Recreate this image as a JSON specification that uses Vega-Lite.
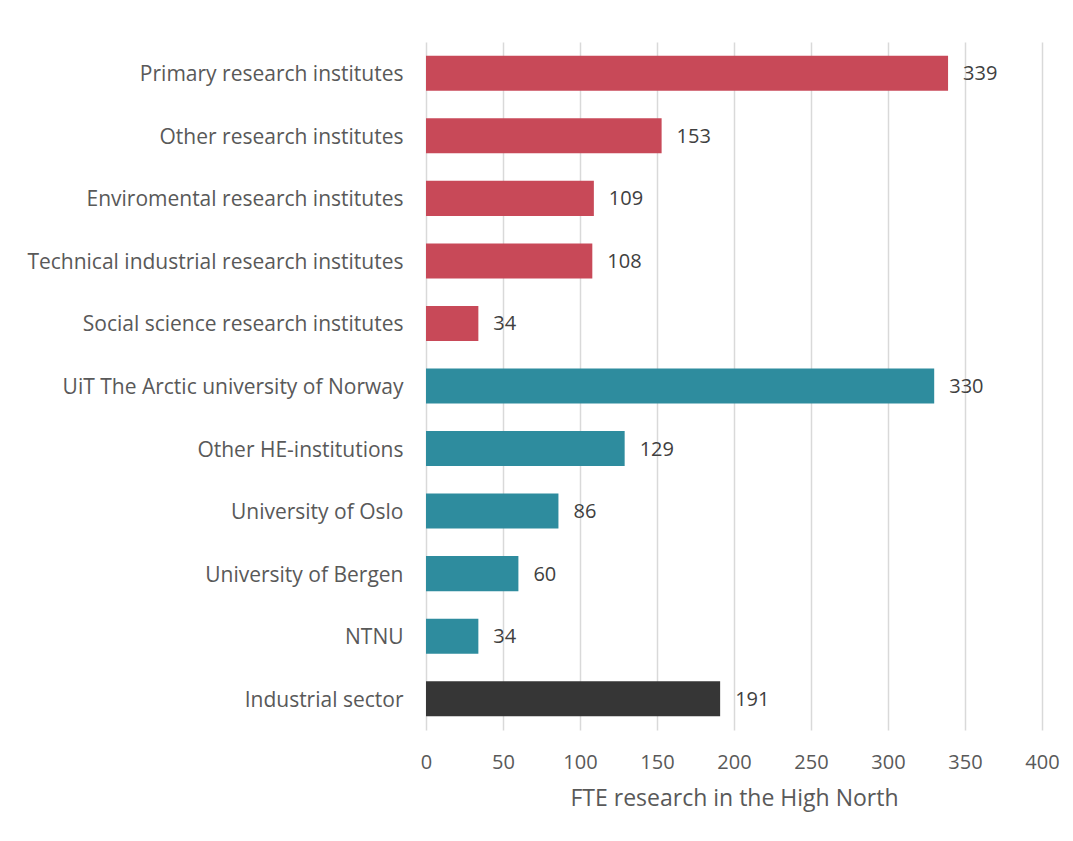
{
  "$schema": "https://vega.github.io/schema/vega-lite/v6.json",
  "autosize": "none",
  "width": 616,
  "height": 688,
  "padding": {"left": 426, "top": 42, "right": 31, "bottom": 111},
  "background": "white",
  "config": {
    "view": {"stroke": null},
    "font": "Open Sans"
  },
  "data": {
    "values": [
      {"category": "Primary research institutes", "value": 339, "group": "Research institutes"},
      {"category": "Other research institutes", "value": 153, "group": "Research institutes"},
      {"category": "Enviromental research institutes", "value": 109, "group": "Research institutes"},
      {"category": "Technical industrial research institutes", "value": 108, "group": "Research institutes"},
      {"category": "Social science research institutes", "value": 34, "group": "Research institutes"},
      {"category": "UiT The Arctic university of Norway", "value": 330, "group": "Higher education"},
      {"category": "Other HE-institutions", "value": 129, "group": "Higher education"},
      {"category": "University of Oslo", "value": 86, "group": "Higher education"},
      {"category": "University of Bergen ", "value": 60, "group": "Higher education"},
      {"category": "NTNU", "value": 34, "group": "Higher education"},
      {"category": "Industrial sector", "value": 191, "group": "Industry"}
    ]
  },
  "encoding": {
    "y": {
      "field": "category",
      "type": "nominal",
      "sort": null,
      "scale": {"paddingInner": 0.44, "paddingOuter": 0.22},
      "axis": {
        "title": null,
        "domain": false,
        "ticks": false,
        "grid": false,
        "labelPadding": 23,
        "labelOffset": 2,
        "labelFontSize": 21,
        "labelColor": "#595959",
        "labelFont": "Open Sans",
        "labelLimit": 500
      }
    },
    "x": {
      "field": "value",
      "type": "quantitative",
      "scale": {"domain": [0, 400], "nice": false},
      "axis": {
        "values": [0, 50, 100, 150, 200, 250, 300, 350, 400],
        "title": "FTE research in the High North",
        "titleFontSize": 23,
        "titleFontWeight": "normal",
        "titleColor": "#595959",
        "titleFont": "Open Sans",
        "titlePadding": 15,
        "domain": false,
        "ticks": false,
        "grid": true,
        "gridColor": "#d9d9d9",
        "gridWidth": 1.5,
        "labelFlush": false,
        "labelPadding": 22,
        "labelFontSize": 20,
        "labelColor": "#595959",
        "labelFont": "Open Sans"
      }
    }
  },
  "layer": [
    {
      "mark": {"type": "bar"},
      "encoding": {
        "color": {
          "field": "group",
          "type": "nominal",
          "scale": {
            "domain": ["Research institutes", "Higher education", "Industry"],
            "range": ["#C84958", "#2E8C9E", "#363636"]
          },
          "legend": null
        }
      }
    },
    {
      "mark": {"type": "text", "align": "left", "baseline": "middle", "dx": 15, "dy": 1, "fontSize": 20, "color": "#404040", "font": "Open Sans"},
      "encoding": {
        "text": {"field": "value", "type": "quantitative"}
      }
    }
  ]
}
